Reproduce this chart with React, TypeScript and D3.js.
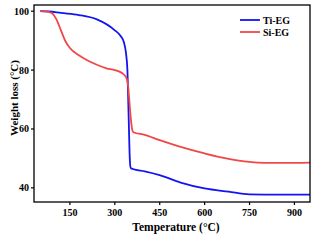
import React from 'react';
import * as d3 from 'd3';

// temperature (°C) / weight (%)
const tiTemp = [50, 80, 120, 180, 240, 300, 320, 330, 337, 342, 346, 350, 353, 360, 400, 450, 520, 600, 680, 750, 850, 952];
const tiWeight = [100, 99.9, 99.4, 98.7, 97.2, 93.5, 91.5, 89.5, 86, 80, 65, 50, 46.8, 46.4, 45.6, 44.3, 41.8, 39.8, 38.7, 37.8, 37.7, 37.7];

const siTemp = [50, 70, 90, 105, 120, 135, 150, 180, 206, 240, 272, 300, 317, 330, 339, 345, 352, 358, 362, 400, 450, 517, 600, 672, 750, 800, 860, 952];
const siWeight = [100, 99.9, 99.3, 97.2, 93.5, 89.8, 87.5, 85, 83.4, 81.8, 80.6, 80, 79.4, 78.5, 77.3, 74, 65, 59.8, 58.9, 58, 56.2, 54, 51.7, 50, 48.8, 48.5, 48.5, 48.6];

const xTicks = [150, 300, 450, 600, 750, 900];
const yTicks = [40, 60, 80, 100];

const series = [
  { name: 'Ti-EG', color: '#1414f0', t: tiTemp, w: tiWeight },
  { name: 'Si-EG', color: '#f04848', t: siTemp, w: siWeight },
];

const margin = { top: 5, right: 9, bottom: 38, left: 34 };
const W = 319;
const H = 240;
const font = "'Liberation Serif', 'Times New Roman', 'DejaVu Serif', serif";

export default function App() {
  const iw = W - margin.left - margin.right;
  const ih = H - margin.top - margin.bottom;
  const x = d3.scaleLinear().domain([30, 952]).range([0, iw]);
  const y = d3.scaleLinear().domain([35.2, 102.1]).range([ih, 0]);

  const line = d3.line<[number, number]>()
    .x(d => x(d[0]))
    .y(d => y(d[1]))
    .curve(d3.curveMonotoneX);

  return (
    <svg width={W} height={H}
      style={{ position: 'absolute', left: 0, top: 0, background: '#fff', fontFamily: font, fontWeight: 'bold' }}>
      <g transform={`translate(${margin.left},${margin.top})`}>
        <defs>
          <clipPath id="clip">
            <rect x={0} y={0} width={iw} height={ih} />
          </clipPath>
        </defs>
        <g clipPath="url(#clip)">
          {series.map(s => (
            <path key={s.name}
              d={line(s.t.map((t, i) => [t, s.w[i]] as [number, number])) || ''}
              fill="none" stroke={s.color} strokeWidth={1.8} />
          ))}
        </g>
        <rect x={0} y={0} width={iw} height={ih} fill="none" stroke="#000" strokeWidth={1.3} />
        {xTicks.map(t => (
          <g key={t} transform={`translate(${x(t)},${ih})`}>
            <line y2={3} stroke="#000" strokeWidth={1.2} />
            <text y={14} textAnchor="middle" fontSize={10}>{t}</text>
          </g>
        ))}
        {yTicks.map(t => (
          <g key={t} transform={`translate(0,${y(t)})`}>
            <line x2={-3} stroke="#000" strokeWidth={1.2} />
            <text x={-5} dy="0.35em" textAnchor="end" fontSize={10}>{t}</text>
          </g>
        ))}
        {series.map((s, i) => (
          <g key={s.name} transform={`translate(${206},${15 + i * 12})`}>
            <line x1={0} x2={20} stroke={s.color} strokeWidth={1.8} />
            <text x={23} dy="0.35em" fontSize={10}>{s.name}</text>
          </g>
        ))}
        <text x={142} y={ih + 29} textAnchor="middle" fontSize={11.5}>Temperature (°C)</text>
        <text transform={`translate(${-16},${93}) rotate(-90)`} textAnchor="middle" fontSize={11}>Weight loss (°C)</text>
      </g>
    </svg>
  );
}
